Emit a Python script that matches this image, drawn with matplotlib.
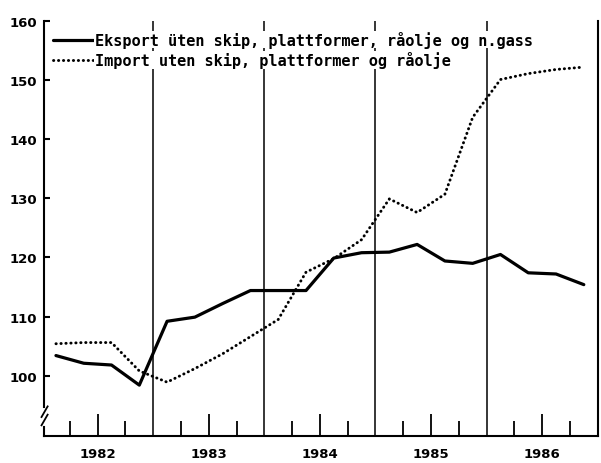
import numpy as np
import matplotlib.pyplot as plt
from matplotlib.ticker import FixedLocator

# Kvartalstall 1982-1986, indeks
years = [1982, 1983, 1984, 1985, 1986]
quarters = [1, 2, 3, 4]
eksport = [103.4, 102.1, 101.8, 98.4,
           109.2, 109.9, 112.2, 114.4,
           114.4, 114.4, 119.9, 120.8,
           120.9, 122.2, 119.4, 119.0,
           120.5, 117.4, 117.2, 115.4]
import_ = [105.4, 105.6, 105.6, 100.8,
           98.9, 101.2, 103.7, 106.6,
           109.5, 117.5, 119.8, 123.0,
           129.9, 127.6, 130.7, 143.7,
           150.1, 151.1, 151.8, 152.2]
y_ticks = [100, 110, 120, 130, 140, 150, 160]
label_eksport = 'Eksport üten skip, plattformer, råolje og n.gass'
label_import = 'Import uten skip, plattformer og råolje'

# kvartal plasseres midt i kvartalet
t = np.array([y + (q - 0.5) / 4 for y in years for q in quarters])

fig = plt.figure(figsize=(6.01, 4.64), dpi=100)
ax = fig.add_axes([0.0737, 0.0588, 0.9208, 0.8938])

ymin, ymax = 89.84, 160
ax.set_xlim(1982.02, 1987.0)
ax.set_ylim(ymin, ymax)

# årsskiller
for yr in years[1:]:
    ax.axvline(yr, color='black', lw=1.1, zorder=1)

ax.plot(t, eksport, color='black', lw=2.3, solid_joinstyle='round',
        solid_capstyle='round', label=label_eksport, zorder=3)
ax.plot(t, import_, color='black', lw=2.1, linestyle=(0, (0.1, 1.6)),
        dash_capstyle='round', label=label_import, zorder=3)

# akser
ax.spines['top'].set_visible(False)
ax.spines['left'].set_visible(False)
for s in ['bottom', 'right']:
    ax.spines[s].set_linewidth(1.5)

# venstre akse med brudd
ax.plot([1982.02, 1982.02], [94.7, ymax], color='black', lw=1.5,
        clip_on=False, zorder=4)
ax.plot([1982.02, 1982.02], [ymin, 91.3], color='black', lw=1.5,
        clip_on=False, zorder=4)
for dy in [0, 1.4]:
    ax.plot([1981.995, 1982.05], [91.6 + dy, 93.4 + dy], color='black',
            lw=1.3, clip_on=False, zorder=4)

ax.set_yticks(y_ticks)
ax.set_yticklabels([str(v) for v in y_ticks], fontweight='bold', fontsize=9.5)
ax.tick_params(axis='y', direction='in', length=4, width=1.5, pad=5)

ax.xaxis.set_major_locator(FixedLocator([y + 0.5 for y in years]))
ax.set_xticklabels([str(y) for y in years], fontweight='bold', fontsize=9.5)
ax.xaxis.set_minor_locator(FixedLocator([y + f for y in years for f in (0.25, 0.75)]))
ax.tick_params(axis='x', which='major', direction='in', length=16, width=1.3, pad=8)
ax.tick_params(axis='x', which='minor', direction='in', length=11, width=1.3)

leg = ax.legend(loc='upper left', bbox_to_anchor=(0.0, 0.998), frameon=False,
                handlelength=2.7, handletextpad=0.0, labelspacing=0.2,
                borderaxespad=0.2, prop={'family': 'DejaVu Sans Mono',
                                         'weight': 'bold', 'size': 11})
for txt in leg.get_texts():
    txt.set_bbox(dict(facecolor='white', edgecolor='none', pad=0.3))
leg.set_zorder(5)

plt.savefig('out.png', dpi=100)
plt.close()
